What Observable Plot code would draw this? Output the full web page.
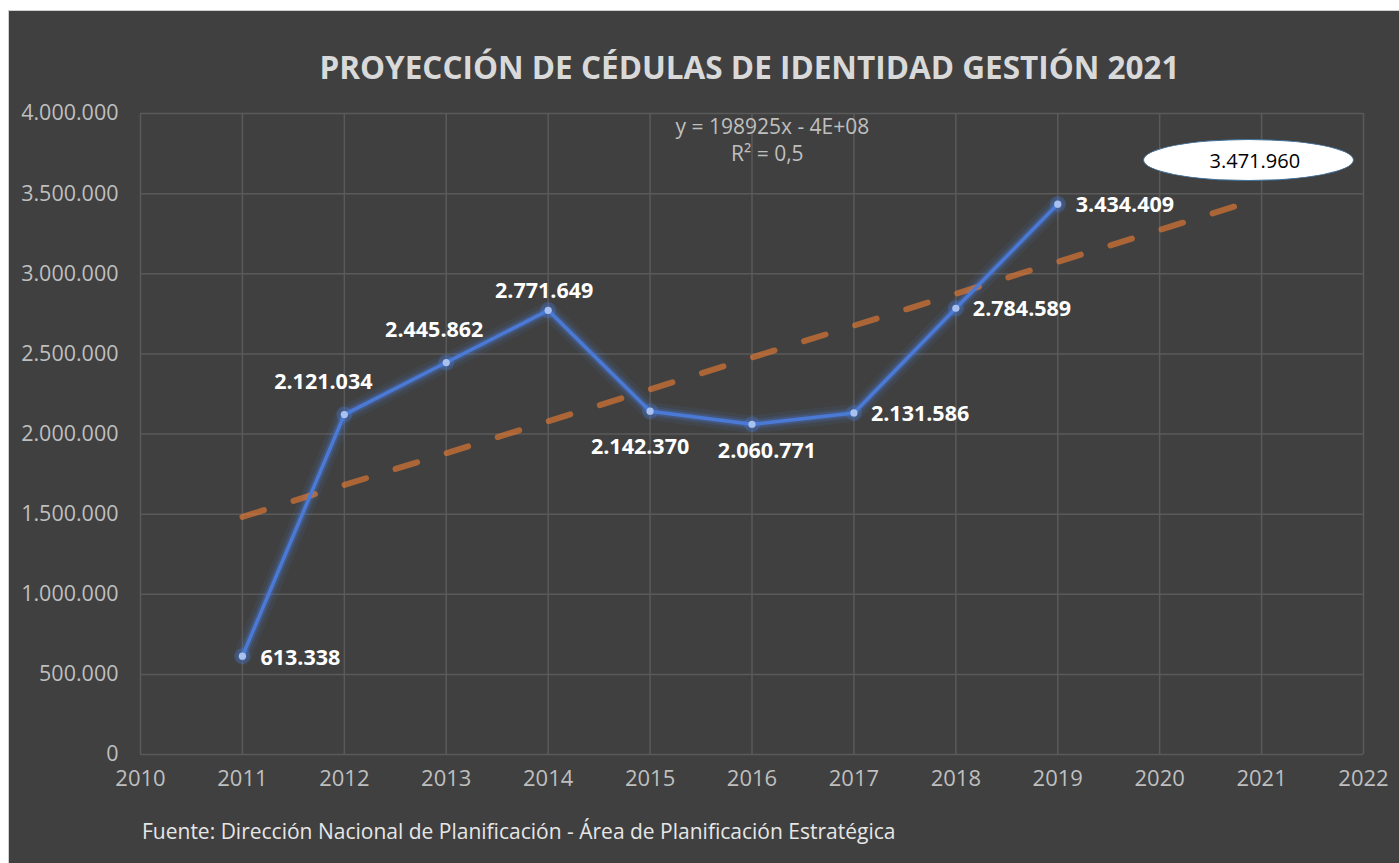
<!DOCTYPE html>
<html>
<head>
<meta charset="utf-8">
<script src="https://cdn.jsdelivr.net/npm/d3@7"></script>
<script src="https://cdn.jsdelivr.net/npm/@observablehq/plot@0.6"></script>
<style>
  html, body { margin: 0; padding: 0; background: #ffffff; width: 1399px; height: 863px; overflow: hidden; }
  #wrap { position: relative; width: 1399px; height: 863px; font-family: "Open Sans", sans-serif; }
  #panel { position: absolute; left: 8px; top: 10px; width: 1400px; height: 860px; background: #404040; border-left: 1px solid #cfcfcf; border-top: 1px solid #cfcfcf; }
  #title { position: absolute; left: 0; width: 1499px; top: 45px; text-align: center; color: #d9d9d9; font-weight: 700; font-size: 31.5px; white-space: nowrap; }
  #caption { position: absolute; left: 142px; top: 817px; color: #e6e6e6; font-size: 21px; white-space: nowrap; }
  #chart { position: absolute; left: 0; top: 0; }
  #bubble { position: absolute; background: #ffffff; border: 1.5px solid #41719c; border-radius: 50%; box-sizing: border-box; display: flex; align-items: center; justify-content: center; color: #000; font-size: 20px; }
</style>
</head>
<body>
<div id="wrap">
  <div id="panel"></div>
  <div id="chart"></div>
  <div id="title">PROYECCIÓN DE CÉDULAS DE IDENTIDAD GESTIÓN 2021</div>
  <div id="caption">Fuente: Dirección Nacional de Planificación - Área de Planificación Estratégica</div>
</div>
<script>
// ---- data ----
const years = [2011, 2012, 2013, 2014, 2015, 2016, 2017, 2018, 2019];
const values = [613338, 2121034, 2445862, 2771649, 2142370, 2060771, 2131586, 2784589, 3434409];
const trendYears = [2011, 2021];
const trendValues = [1482700, 3471960];
const xTickLabels = [2010, 2011, 2012, 2013, 2014, 2015, 2016, 2017, 2018, 2019, 2020, 2021, 2022];
const yTickValues = [0, 500000, 1000000, 1500000, 2000000, 2500000, 3000000, 3500000, 4000000];
const equationLines = ["y = 198925x - 4E+08", "R² = 0,5"];
const forecastYear = 2021;
const forecastValue = 3471960;

// ---- build ----
const locale = d3.formatLocale({decimal: ",", thousands: ".", grouping: [3], currency: ["", ""]});
const fmt = locale.format(",d");
const points = years.map((year, i) => ({year, value: values[i]}));
const trend = trendYears.map((year, i) => ({year, value: trendValues[i]}));

// label placement per year (style)
const place = {
  2011: {anchor: "start", dx: 18, dy: 2},
  2012: {anchor: "middle", dx: -21, dy: -32},
  2013: {anchor: "middle", dx: -12, dy: -32},
  2014: {anchor: "middle", dx: -4, dy: -19},
  2015: {anchor: "middle", dx: -10, dy: 36},
  2016: {anchor: "middle", dx: 15, dy: 27},
  2017: {anchor: "start", dx: 17, dy: 1},
  2018: {anchor: "start", dx: 17, dy: 1},
  2019: {anchor: "start", dx: 18, dy: 1}
};

const blue = "#4a7ad6";
const labelMarks = points.map(p => Plot.text([p], {
  x: "year", y: "value", text: d => fmt(d.value),
  textAnchor: place[p.year].anchor, dx: place[p.year].dx, dy: place[p.year].dy,
  fill: "#ffffff", fontWeight: 700, fontSize: 21.5
}));

const plot = Plot.plot({
  width: 1399,
  height: 863,
  marginLeft: 140,
  marginRight: 36,
  marginTop: 113,
  marginBottom: 109,
  style: {background: "transparent", color: "#bfbfbf", fontFamily: "'Open Sans', sans-serif", overflow: "visible"},
  x: {domain: [2010, 2022], axis: null},
  y: {domain: [0, 4000000], axis: null},
  marks: [
    Plot.ruleY(yTickValues, {stroke: "#5a5a5a", strokeWidth: 1.5}),
    Plot.ruleX(xTickLabels, {stroke: "#5a5a5a", strokeWidth: 1.5}),
    Plot.text(yTickValues, {y: d => d, frameAnchor: "left", textAnchor: "end", dx: -22, text: d => fmt(d), fontSize: 21.5, fill: "#bfbfbf"}),
    Plot.text(xTickLabels, {x: d => d, frameAnchor: "bottom", dy: 31, text: d => String(d), fontSize: 22, fill: "#bfbfbf"}),
    // glow
    Plot.line(points, {x: "year", y: "value", stroke: blue, strokeWidth: 18, strokeOpacity: 0.08, strokeLinejoin: "round", strokeLinecap: "round"}),
    Plot.line(points, {x: "year", y: "value", stroke: blue, strokeWidth: 11, strokeOpacity: 0.16, strokeLinejoin: "round", strokeLinecap: "round"}),
    Plot.line(points, {x: "year", y: "value", stroke: blue, strokeWidth: 7, strokeOpacity: 0.28, strokeLinejoin: "round", strokeLinecap: "round"}),
    // trendline
    Plot.line(trend, {x: "year", y: "value", stroke: "#ED7D31", strokeOpacity: 0.62, strokeWidth: 6, strokeDasharray: "22.5,31", strokeLinecap: "round"}),
    // main line
    Plot.line(points, {x: "year", y: "value", stroke: blue, strokeWidth: 3.5, strokeLinejoin: "round"}),
    Plot.dot(points, {x: "year", y: "value", r: 8, fill: blue, fillOpacity: 0.3}),
    Plot.dot(points, {x: "year", y: "value", r: 3.6, fill: "#a9c1f0"}),
    Plot.text([equationLines[0]], {x: () => 2016.2, y: () => 3912000, text: d => d, fontSize: 21, fill: "#bfbfbf"}),
    Plot.text([equationLines[1]], {x: () => 2016.15, y: () => 3744000, text: d => d, fontSize: 21, fill: "#bfbfbf"}),
    ...labelMarks
  ]
});
document.getElementById("chart").appendChild(plot);

// forecast bubble positioned via the plot's scales
const sx = plot.scale("x"), sy = plot.scale("y");
const cx = sx.apply(forecastYear - 0.12);
const cy = sy.apply(forecastValue + 234000);
const bw = 211, bh = 42;
const bubble = document.createElement("div");
bubble.id = "bubble";
bubble.style.left = (cx - bw / 2) + "px";
bubble.style.top = (cy - bh / 2) + "px";
bubble.style.width = bw + "px";
bubble.style.height = bh + "px";
bubble.innerHTML = '<span style="padding-left:12px">' + fmt(forecastValue) + '</span>';
document.getElementById("wrap").appendChild(bubble);
</script>
</body>
</html>
